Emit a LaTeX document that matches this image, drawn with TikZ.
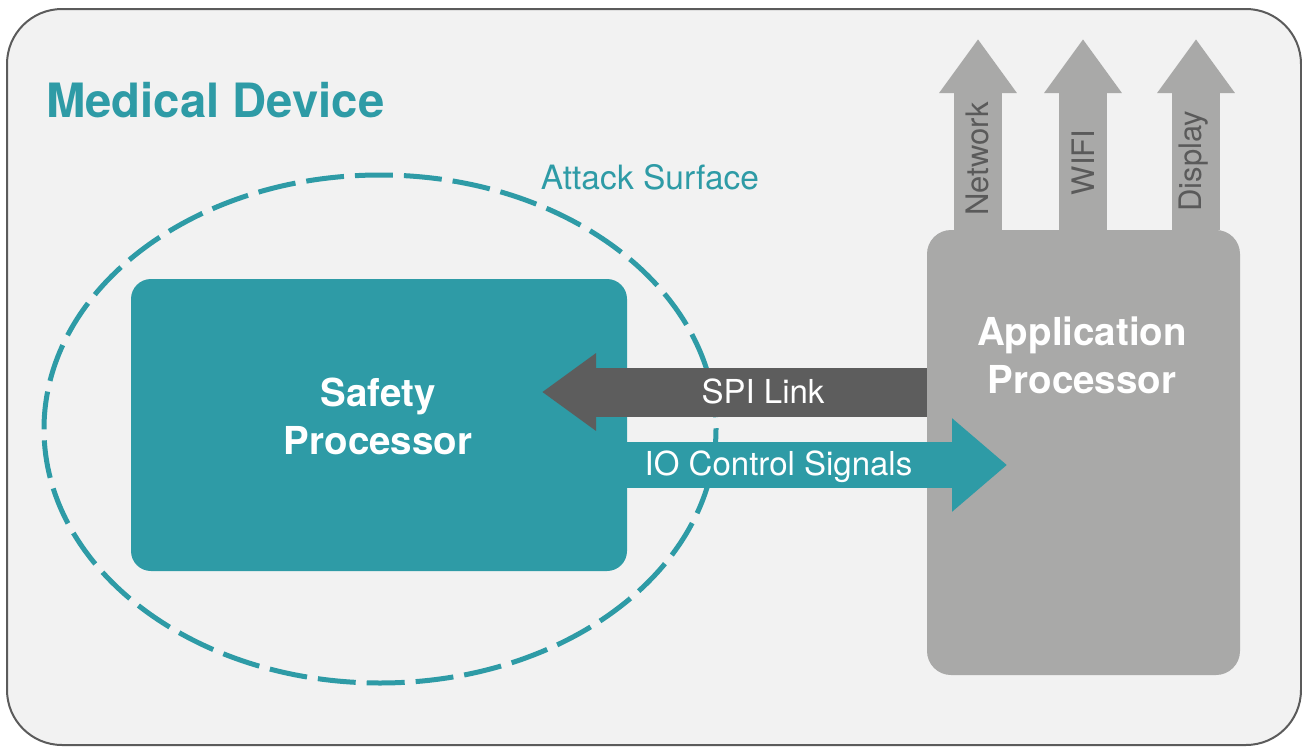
\documentclass[tikz,border=0pt]{standalone}
\usepackage{fontspec}
\setmainfont{TeX Gyre Heros}
\usetikzlibrary{arrows.meta}
\definecolor{tealc}{RGB}{46,155,166}
\definecolor{appgray}{RGB}{169,169,168}
\definecolor{bgc}{RGB}{242,242,242}
\definecolor{borderc}{RGB}{91,91,91}
\definecolor{spigray}{RGB}{93,93,93}
\definecolor{lblgray}{RGB}{90,90,90}
\begin{document}
\begin{tikzpicture}[x=1pt,y=-1pt,
  boxbase/.style={rectangle, inner sep=0pt, outer sep=0pt},
  safetybox/.style={boxbase, fill=tealc, rounded corners=20pt, minimum width=496pt, minimum height=292pt},
  appbox/.style={boxbase, fill=appgray, rounded corners=24pt, minimum width=313pt, minimum height=445pt},
  bigtext/.style={text=white, align=center, inner sep=0pt, font=\bfseries\fontsize{38.5}{48}\selectfont},
  arrowtext/.style={text=white, inner sep=0pt, anchor=base, font=\fontsize{33}{38}\selectfont},
  uptext/.style={text=lblgray, inner sep=0pt, rotate=90, font=\fontsize{31}{36}\selectfont},
  uparrow/.style={draw=appgray, line width=48pt, -{Triangle[length=54pt,width=74pt]}},
]
\useasboundingbox (0,0) rectangle (1302,747);
% outer frame
\draw[draw=borderc, fill=bgc, line width=2pt, rounded corners=55pt] (7,9) rectangle (1301,745);
\node[anchor=base west, inner sep=0pt, text=tealc, font=\bfseries\fontsize{47.3}{56}\selectfont] (title) at (46,117) {Medical Device};
% attack surface
\draw[tealc, line width=5pt, dash pattern=on 38pt off 11pt] (380,429) ellipse [x radius=336, y radius=254];
\node[anchor=base, inner sep=0pt, text=tealc, font=\fontsize{33.5}{38}\selectfont] (attack) at (650,189) {Attack Surface};
% boxes
\node[safetybox] (safety) at (379,425) {};
\node[bigtext] (safetylbl) at (378,416.5) {Safety\\Processor};
\node[appbox] (app) at (1083.5,452.5) {};
\node[bigtext] (applbl) at (1082,355.5) {Application\\Processor};
% up arrows
\coordinate (nettip) at (978,39);
\coordinate (wifitip) at (1083,39);
\coordinate (disptip) at (1196,39);
\draw[uparrow] (nettip |- app.north) -- (nettip);
\draw[uparrow] (wifitip |- app.north) -- (wifitip);
\draw[uparrow] (disptip |- app.north) -- (disptip);
\node[uptext] (netlbl) at (977,159) {Network};
\node[uptext] (wifilbl) at (1083,162.5) {WIFI};
\node[uptext] (displbl) at (1193.5,161) {Display};
% SPI link
\coordinate (spitip) at (542,392);
\draw[draw=spigray, line width=49pt, -{Triangle[length=54pt,width=74pt]}] (app.west |- spitip) -- (spitip);
\node[arrowtext] (spilbl) at (763,403) {SPI Link};
% IO control signals
\coordinate (iotip) at (1007,465);
\draw[draw=tealc, line width=46pt, -{Triangle[length=55pt,width=90pt]}] (safety.east |- iotip) -- (iotip);
\node[arrowtext] (iolbl) at (778.5,475) {IO Control Signals};
\end{tikzpicture}
\end{document}
